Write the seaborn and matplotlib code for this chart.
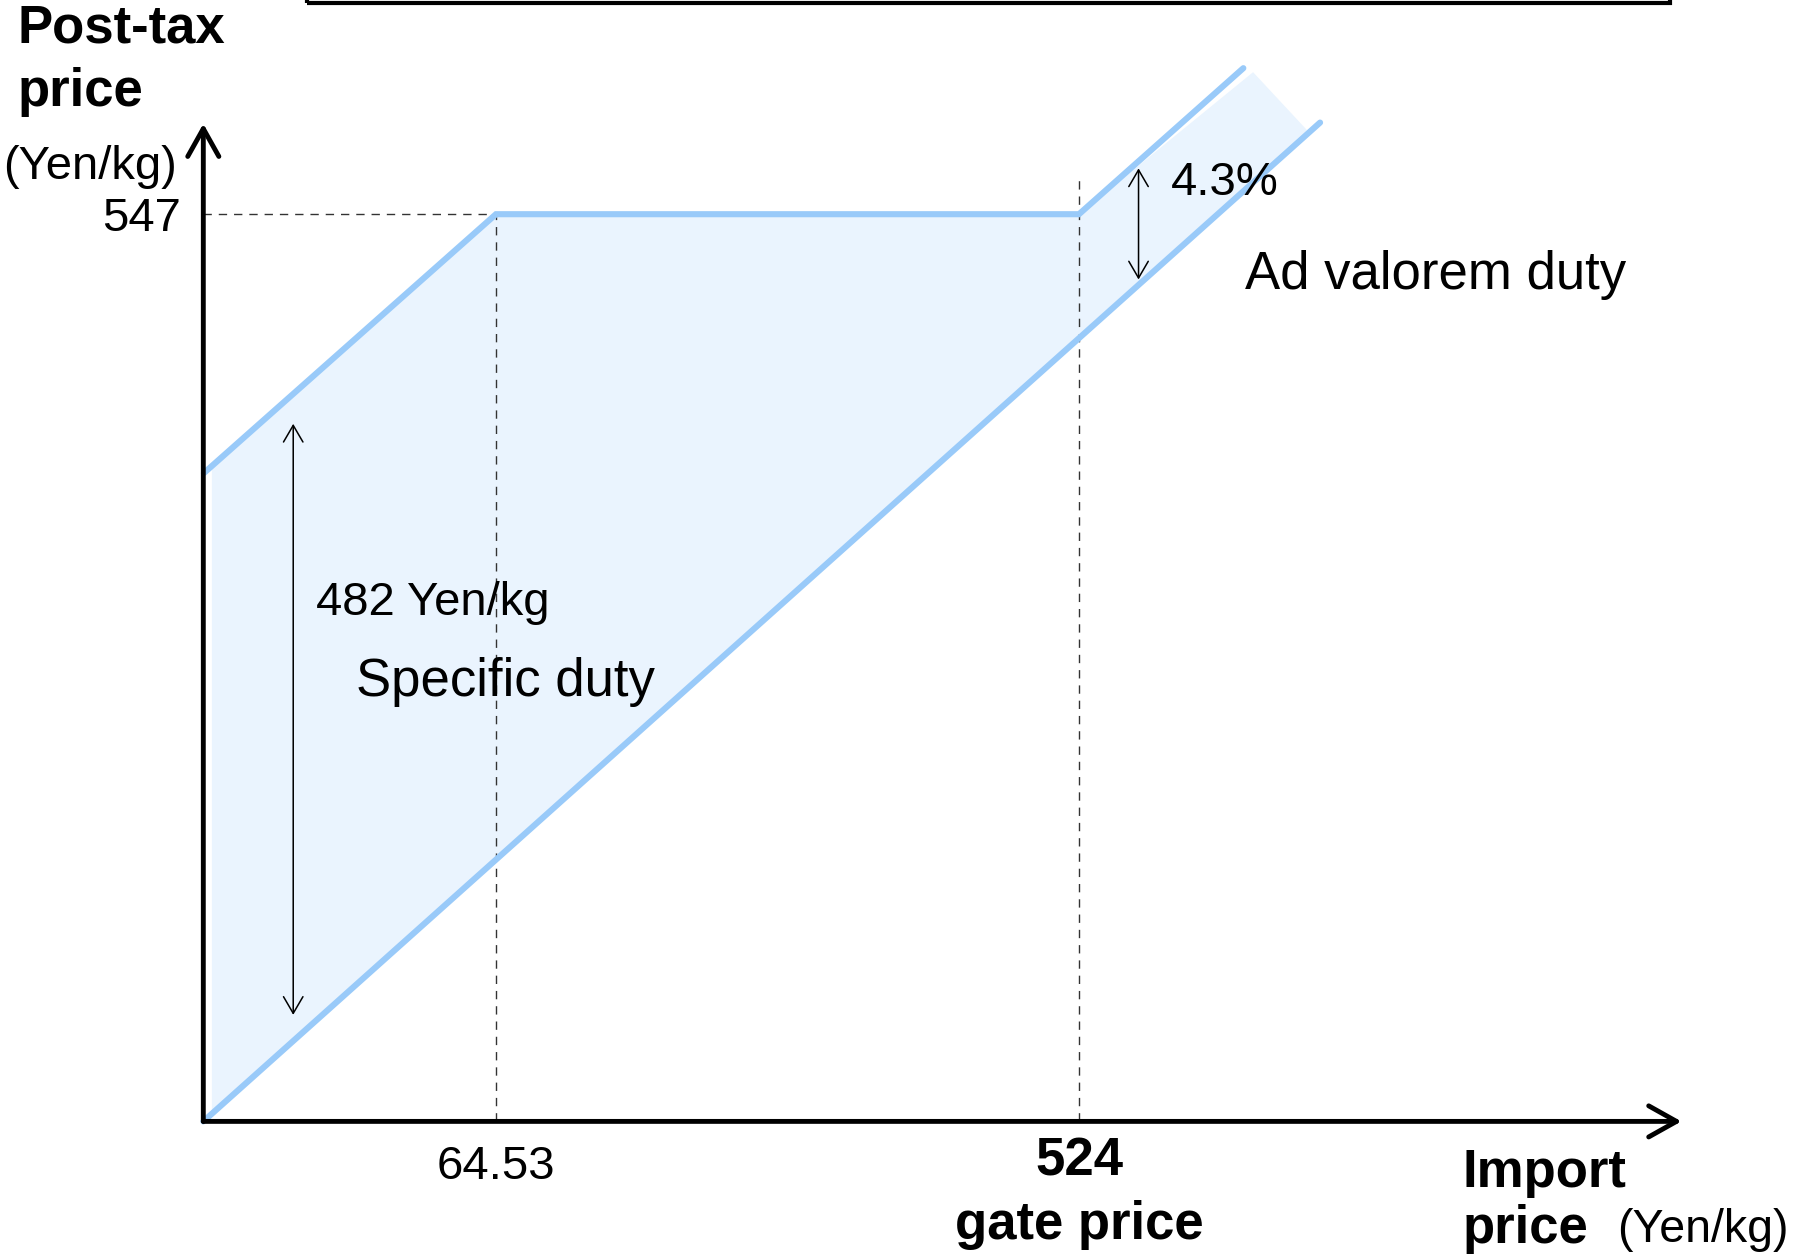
import matplotlib
matplotlib.use("Agg")
import matplotlib.pyplot as plt
from matplotlib.patches import Rectangle
from matplotlib.transforms import ScaledTranslation
import seaborn as sns

# Schematic of the tariff: values in drawing units
# (origin at the axes corner), the real prices only appear as labels.
lower_x = [0, 975]
lower_y = [0, 872]
upper_x = [0.5, 255.5, 764.5, 908]
upper_y = [566, 792, 792, 919.5]
fill_x = [7.5, 7.5, 255.5, 764.5, 916.5, 963.5]
fill_y = [7, 572, 792, 792, 916, 865.5]

kink_x = 255.5      # 64.53 Yen/kg
gate_x = 764.5      # 524 Yen/kg gate price
cap_y = 792         # 547 Yen/kg
gate_top = 822

specific_arrow = (78.5, 93, 609)     # x, y from, y to
advalorem_arrow = (816.5, 735, 832)

x_tick_pos = [kink_x, gate_x]
x_tick_labels = ["64.53", "524\ngate price"]
y_tick_pos = [cap_y]
y_tick_labels = ["547"]

BLUE = "#99caf9"
FILL = "#eaf4fe"
W, H = 1568, 1100   # layout grid of the reference

sns.set_theme(style="white")
plt.rcParams["font.family"] = ["Liberation Sans", "DejaVu Sans"]

fig = plt.figure(figsize=(17.96, 12.6), dpi=100)
ax = fig.add_axes([177.5 / W, 1 - 979 / H, (1468 - 177.5) / W, (979 - 108) / H])
ax.set_xlim(0, 1290.5)
ax.set_ylim(0, 871)
for s in ax.spines.values():
    s.set_visible(False)

ax.fill(fill_x, fill_y, color=FILL, lw=0, zorder=1, clip_on=False)

dash = dict(color="#333333", lw=1.0, ls=(0, (6, 5)), zorder=2)
ax.plot([0, kink_x], [cap_y, cap_y], **dash)
ax.plot([kink_x, kink_x], [0, cap_y], **dash)
ax.plot([gate_x, gate_x], [0, gate_top], **dash, clip_on=False)

sns.lineplot(x=lower_x, y=lower_y, ax=ax, color=BLUE, lw=4.4, sort=False,
             zorder=3, clip_on=False)
sns.lineplot(x=upper_x, y=upper_y, ax=ax, color=BLUE, lw=4.4, sort=False,
             zorder=3, clip_on=False, solid_joinstyle="miter")

# axes with open arrow heads
axis_arrow = dict(arrowstyle="->,head_length=0.5,head_width=0.28", lw=3.5,
                  color="black", mutation_scale=40, shrinkA=0, shrinkB=0)
ax.annotate("", xy=(0, 1), xytext=(0, 0), xycoords="axes fraction",
            arrowprops=axis_arrow, annotation_clip=False, zorder=5)
ax.annotate("", xy=(1, 0), xytext=(0, 0), xycoords="axes fraction",
            arrowprops=axis_arrow, annotation_clip=False, zorder=5)

thin_arrow = dict(arrowstyle="<->,head_length=0.6,head_width=0.35", lw=1.1,
                  color="black", mutation_scale=20, shrinkA=0, shrinkB=0)
for x, y0, y1 in [specific_arrow, advalorem_arrow]:
    ax.annotate("", xy=(x, y1), xytext=(x, y0), arrowprops=thin_arrow,
                annotation_clip=False, zorder=4)

ax.set_xticks(x_tick_pos, x_tick_labels)
ax.set_yticks(y_tick_pos, y_tick_labels)
ax.tick_params(length=0, axis="x", pad=11, labelcolor="black")
ax.tick_params(length=0, axis="y", pad=16, labelcolor="black")
xl = ax.get_xticklabels()
xl[0].set_fontsize(34)
xl[0].set_transform(xl[0].get_transform()
                    + ScaledTranslation(0, -6 / 72, fig.dpi_scale_trans))
xl[1].set_fontsize(38)
xl[1].set_fontweight("bold")
xl[1].set_linespacing(1.35)
for t in ax.get_yticklabels():
    t.set_fontsize(34)


def label(px, py, s, size, bold=False):
    fig.text(px / W, 1 - py / H, s, fontsize=size, ha="left", va="baseline",
             fontweight="bold" if bold else "normal", color="black")


label(15, 37, "Post-tax", 38, True)
label(15, 92.5, "price", 38, True)
label(3, 156, "(Yen/kg)", 34)
label(276, 537, "482 Yen/kg", 34)
label(311, 608, "Specific duty", 38)
label(1022, 170, "4.3%", 34)
label(1087, 252, "Ad valorem duty", 38)
label(1277, 1036, "Import", 38, True)
label(1277, 1085, "price", 38, True)
label(1412, 1084, "(Yen/kg)", 33.5)

# frame of the cut-off box at the top edge
fig.patches.append(Rectangle((268 / W, 1 - 3 / H), (1458 - 268) / W, 0.2,
                             transform=fig.transFigure, fill=False,
                             edgecolor="black", lw=3, clip_on=False))

fig.savefig("out.png", dpi=100)
